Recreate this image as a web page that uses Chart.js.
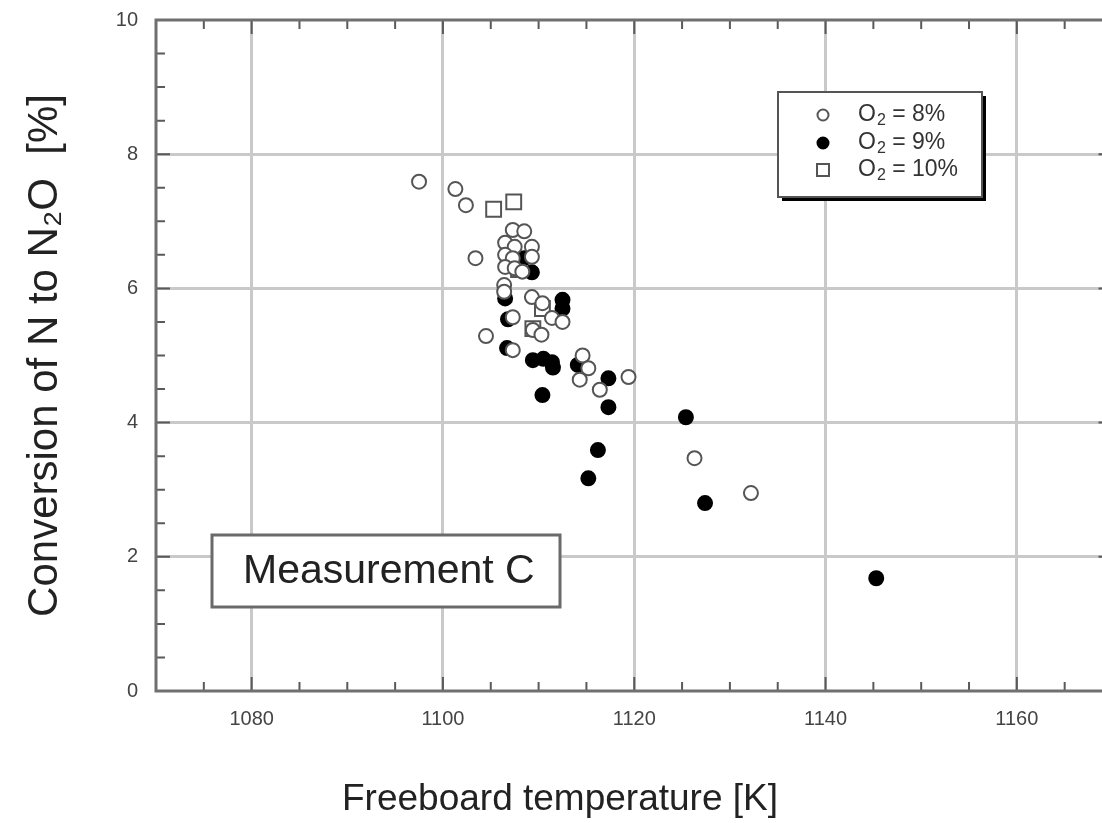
<!DOCTYPE html>
<html>
<head>
<meta charset="utf-8">
<script src="https://cdn.jsdelivr.net/npm/chart.js@4.4.1/dist/chart.umd.min.js"></script>
<style>
  html, body { margin: 0; padding: 0; background: #fff; overflow: hidden; }
  canvas { display: block; }
</style>
</head>
<body>
<canvas id="grafico" width="1125" height="823"></canvas>
<script>
// DATOS

// O2 = 8% (circulos vacios)
const o2_8_x = [1097.5, 1101.3, 1102.4, 1103.4, 1104.5,
  1107.3, 1108.5, 1106.5, 1107.5, 1109.3, 1106.5, 1107.3, 1109.3, 1106.5, 1107.5,
  1108.3, 1106.4, 1106.4, 1109.3, 1110.4, 1107.3, 1111.4, 1112.5, 1109.4, 1110.3,
  1107.3, 1114.6, 1115.2, 1114.3, 1116.4, 1119.4, 1126.3, 1132.2];
const o2_8_y = [7.59, 7.48, 7.24, 6.45, 5.29,
  6.87, 6.85, 6.68, 6.62, 6.62, 6.50, 6.45, 6.47, 6.32, 6.30,
  6.25, 6.05, 5.95, 5.87, 5.78, 5.57, 5.56, 5.50, 5.38, 5.31,
  5.08, 5.00, 4.81, 4.64, 4.49, 4.68, 3.47, 2.95];

// O2 = 9% (circulos llenos)
const o2_9_x = [1108.5, 1109.3, 1106.5, 1106.8, 1106.7, 1112.5, 1112.5, 1109.4, 1110.5, 1111.4,
  1111.5, 1110.4, 1114.1, 1117.3, 1117.3, 1116.2, 1115.2, 1125.4, 1127.4, 1145.3];
const o2_9_y = [6.45, 6.24, 5.85, 5.54, 5.11, 5.83, 5.70, 4.93, 4.95, 4.90,
  4.82, 4.41, 4.86, 4.66, 4.23, 3.59, 3.17, 4.08, 2.80, 1.68];

// O2 = 10% (cuadrados)
const o2_10_x = [1105.3, 1107.4, 1107.9, 1109.4, 1110.4];
const o2_10_y = [7.18, 7.29, 6.28, 5.40, 5.70];

const etiquetasX = [1080, 1100, 1120, 1140, 1160];
const etiquetasY = [0, 2, 4, 6, 8, 10];

const leyenda = ['O₂ = 8%', 'O₂ = 9%', 'O₂ = 10%'];
const nota = 'Measurement C';
const tituloX = 'Freeboard temperature [K]';

const FUENTE = '"Liberation Sans", Arial, sans-serif';

function puntos(xs, ys) {
  return xs.map((v, i) => ({ x: v, y: ys[i] }));
}

// marco, marcas interiores, leyenda y recuadro de texto
const marco = {
  id: 'marco',
  beforeDatasetsDraw(chart) {
    const { ctx, chartArea: a, scales: { x, y } } = chart;
    ctx.save();
    ctx.strokeStyle = '#5a5a5a';
    ctx.lineWidth = 2;
    x.ticks.forEach(t => {
      if (t.value <= x.min || t.value >= x.max) return;
      const px = x.getPixelForValue(t.value);
      const largo = t.value % 20 === 0 ? 14 : 9;
      ctx.beginPath();
      ctx.moveTo(px, a.bottom); ctx.lineTo(px, a.bottom - largo);
      ctx.moveTo(px, a.top); ctx.lineTo(px, a.top + largo);
      ctx.stroke();
    });
    y.ticks.forEach(t => {
      if (t.value <= y.min || t.value >= y.max) return;
      const py = y.getPixelForValue(t.value);
      const largo = t.value % 2 === 0 ? 14 : 9;
      ctx.beginPath();
      ctx.moveTo(a.left, py); ctx.lineTo(a.left + largo, py);
      ctx.moveTo(a.right, py); ctx.lineTo(a.right - largo, py);
      ctx.stroke();
    });
    ctx.strokeStyle = '#707070';
    ctx.lineWidth = 3;
    ctx.beginPath();
    ctx.moveTo(a.right, a.top);
    ctx.lineTo(a.left, a.top);
    ctx.lineTo(a.left, a.bottom);
    ctx.lineTo(a.right, a.bottom);
    ctx.stroke();

    // recuadro "Measurement C"
    ctx.fillStyle = '#fff';
    ctx.fillRect(212, 535, 348, 72);
    ctx.strokeStyle = '#6a6a6a';
    ctx.lineWidth = 3;
    ctx.strokeRect(212, 535, 348, 72);
    ctx.fillStyle = '#222';
    ctx.font = '41px ' + FUENTE;
    ctx.textBaseline = 'middle';
    ctx.textAlign = 'left';
    ctx.fillText(nota, 243, 572);

    // titulo del eje x (desplazado a la izquierda como en el original)
    ctx.font = '37px ' + FUENTE;
    ctx.textAlign = 'center';
    ctx.fillText(tituloX, 560, 800);
    ctx.restore();
  },
  afterDatasetsDraw(chart) {
    const { ctx } = chart;
    ctx.save();
    // sombra y caja
    ctx.fillStyle = '#000';
    ctx.fillRect(782, 96, 204, 105);
    ctx.fillStyle = '#fff';
    ctx.fillRect(778, 92, 204, 105);
    ctx.strokeStyle = '#555';
    ctx.lineWidth = 2;
    ctx.strokeRect(778, 92, 204, 105);

    const filas = [115, 143, 170];
    chart.data.datasets.forEach((ds, i) => {
      const cy = filas[i];
      ctx.lineWidth = 2;
      ctx.strokeStyle = ds.borderColor;
      ctx.fillStyle = ds.backgroundColor;
      ctx.beginPath();
      if (ds.pointStyle === 'rect') {
        ctx.rect(823 - 6, cy - 6, 12, 12);
      } else {
        ctx.arc(823, cy, 5.5, 0, Math.PI * 2);
      }
      ctx.fill();
      ctx.stroke();

      // texto con subindice
      const [antes, resto] = leyenda[i].split('₂');
      ctx.fillStyle = '#333';
      ctx.textBaseline = 'middle';
      ctx.textAlign = 'left';
      ctx.font = '23px ' + FUENTE;
      let tx = 858;
      ctx.fillText(antes, tx, cy);
      tx += ctx.measureText(antes).width + 1;
      ctx.font = '16px ' + FUENTE;
      ctx.fillText('2', tx, cy + 6);
      tx += ctx.measureText('2').width;
      ctx.font = '23px ' + FUENTE;
      ctx.fillText(resto, tx, cy);
    });
    ctx.restore();
  }
};

const ctx = document.getElementById('grafico').getContext('2d');
const grafico = new Chart(ctx, {
  type: 'scatter',
  data: {
    datasets: [
      {
        label: leyenda[0],
        data: puntos(o2_8_x, o2_8_y),
        pointStyle: 'circle',
        pointRadius: 7,
        borderWidth: 2,
        borderColor: '#555',
        backgroundColor: '#fff'
      },
      {
        label: leyenda[1],
        data: puntos(o2_9_x, o2_9_y),
        pointStyle: 'circle',
        pointRadius: 7,
        borderWidth: 2,
        borderColor: '#000',
        backgroundColor: '#000'
      },
      {
        label: leyenda[2],
        data: puntos(o2_10_x, o2_10_y),
        pointStyle: 'rect',
        pointRadius: 10.5,
        borderWidth: 2,
        borderColor: '#555',
        backgroundColor: '#fff'
      }
    ]
  },
  options: {
    responsive: false,
    animation: false,
    layout: { padding: { top: 20, right: 0, left: 0, bottom: 0 } },
    plugins: {
      legend: { display: false },
      tooltip: { enabled: false }
    },
    scales: {
      x: {
        type: 'linear',
        min: 1070,
        max: 1170,
        afterFit: s => { s.height = 132; },
        border: { display: false },
        grid: {
          drawTicks: true,
          tickLength: 16,
          tickColor: 'rgba(0,0,0,0)',
          lineWidth: 3,
          color: c => (etiquetasX.includes(c.tick.value) ? '#c9c9c9' : 'rgba(0,0,0,0)')
        },
        ticks: {
          stepSize: 5,
          autoSkip: false,
          maxRotation: 0,
          padding: 0,
          color: '#444',
          font: { family: FUENTE, size: 20 },
          callback: v => (etiquetasX.includes(v) ? String(v) : '')
        },
        title: { display: false }
      },
      y: {
        type: 'linear',
        min: 0,
        max: 10,
        afterFit: s => { s.width = 156; },
        border: { display: false },
        grid: {
          drawTicks: true,
          tickLength: 18,
          tickColor: 'rgba(0,0,0,0)',
          lineWidth: 3,
          color: c => (c.tick.value > 0 && c.tick.value < 10 && etiquetasY.includes(c.tick.value) ? '#c9c9c9' : 'rgba(0,0,0,0)')
        },
        ticks: {
          stepSize: 0.5,
          autoSkip: false,
          padding: 0,
          color: '#444',
          font: { family: FUENTE, size: 20 },
          callback: v => (etiquetasY.includes(v) ? String(v) : '')
        },
        title: {
          display: true,
          text: 'Conversion of N to N₂O  [%]',
          color: '#222',
          font: { family: FUENTE, size: 42 },
          padding: { top: 20, bottom: 0 }
        }
      }
    }
  },
  plugins: [marco]
});
</script>
</body>
</html>
